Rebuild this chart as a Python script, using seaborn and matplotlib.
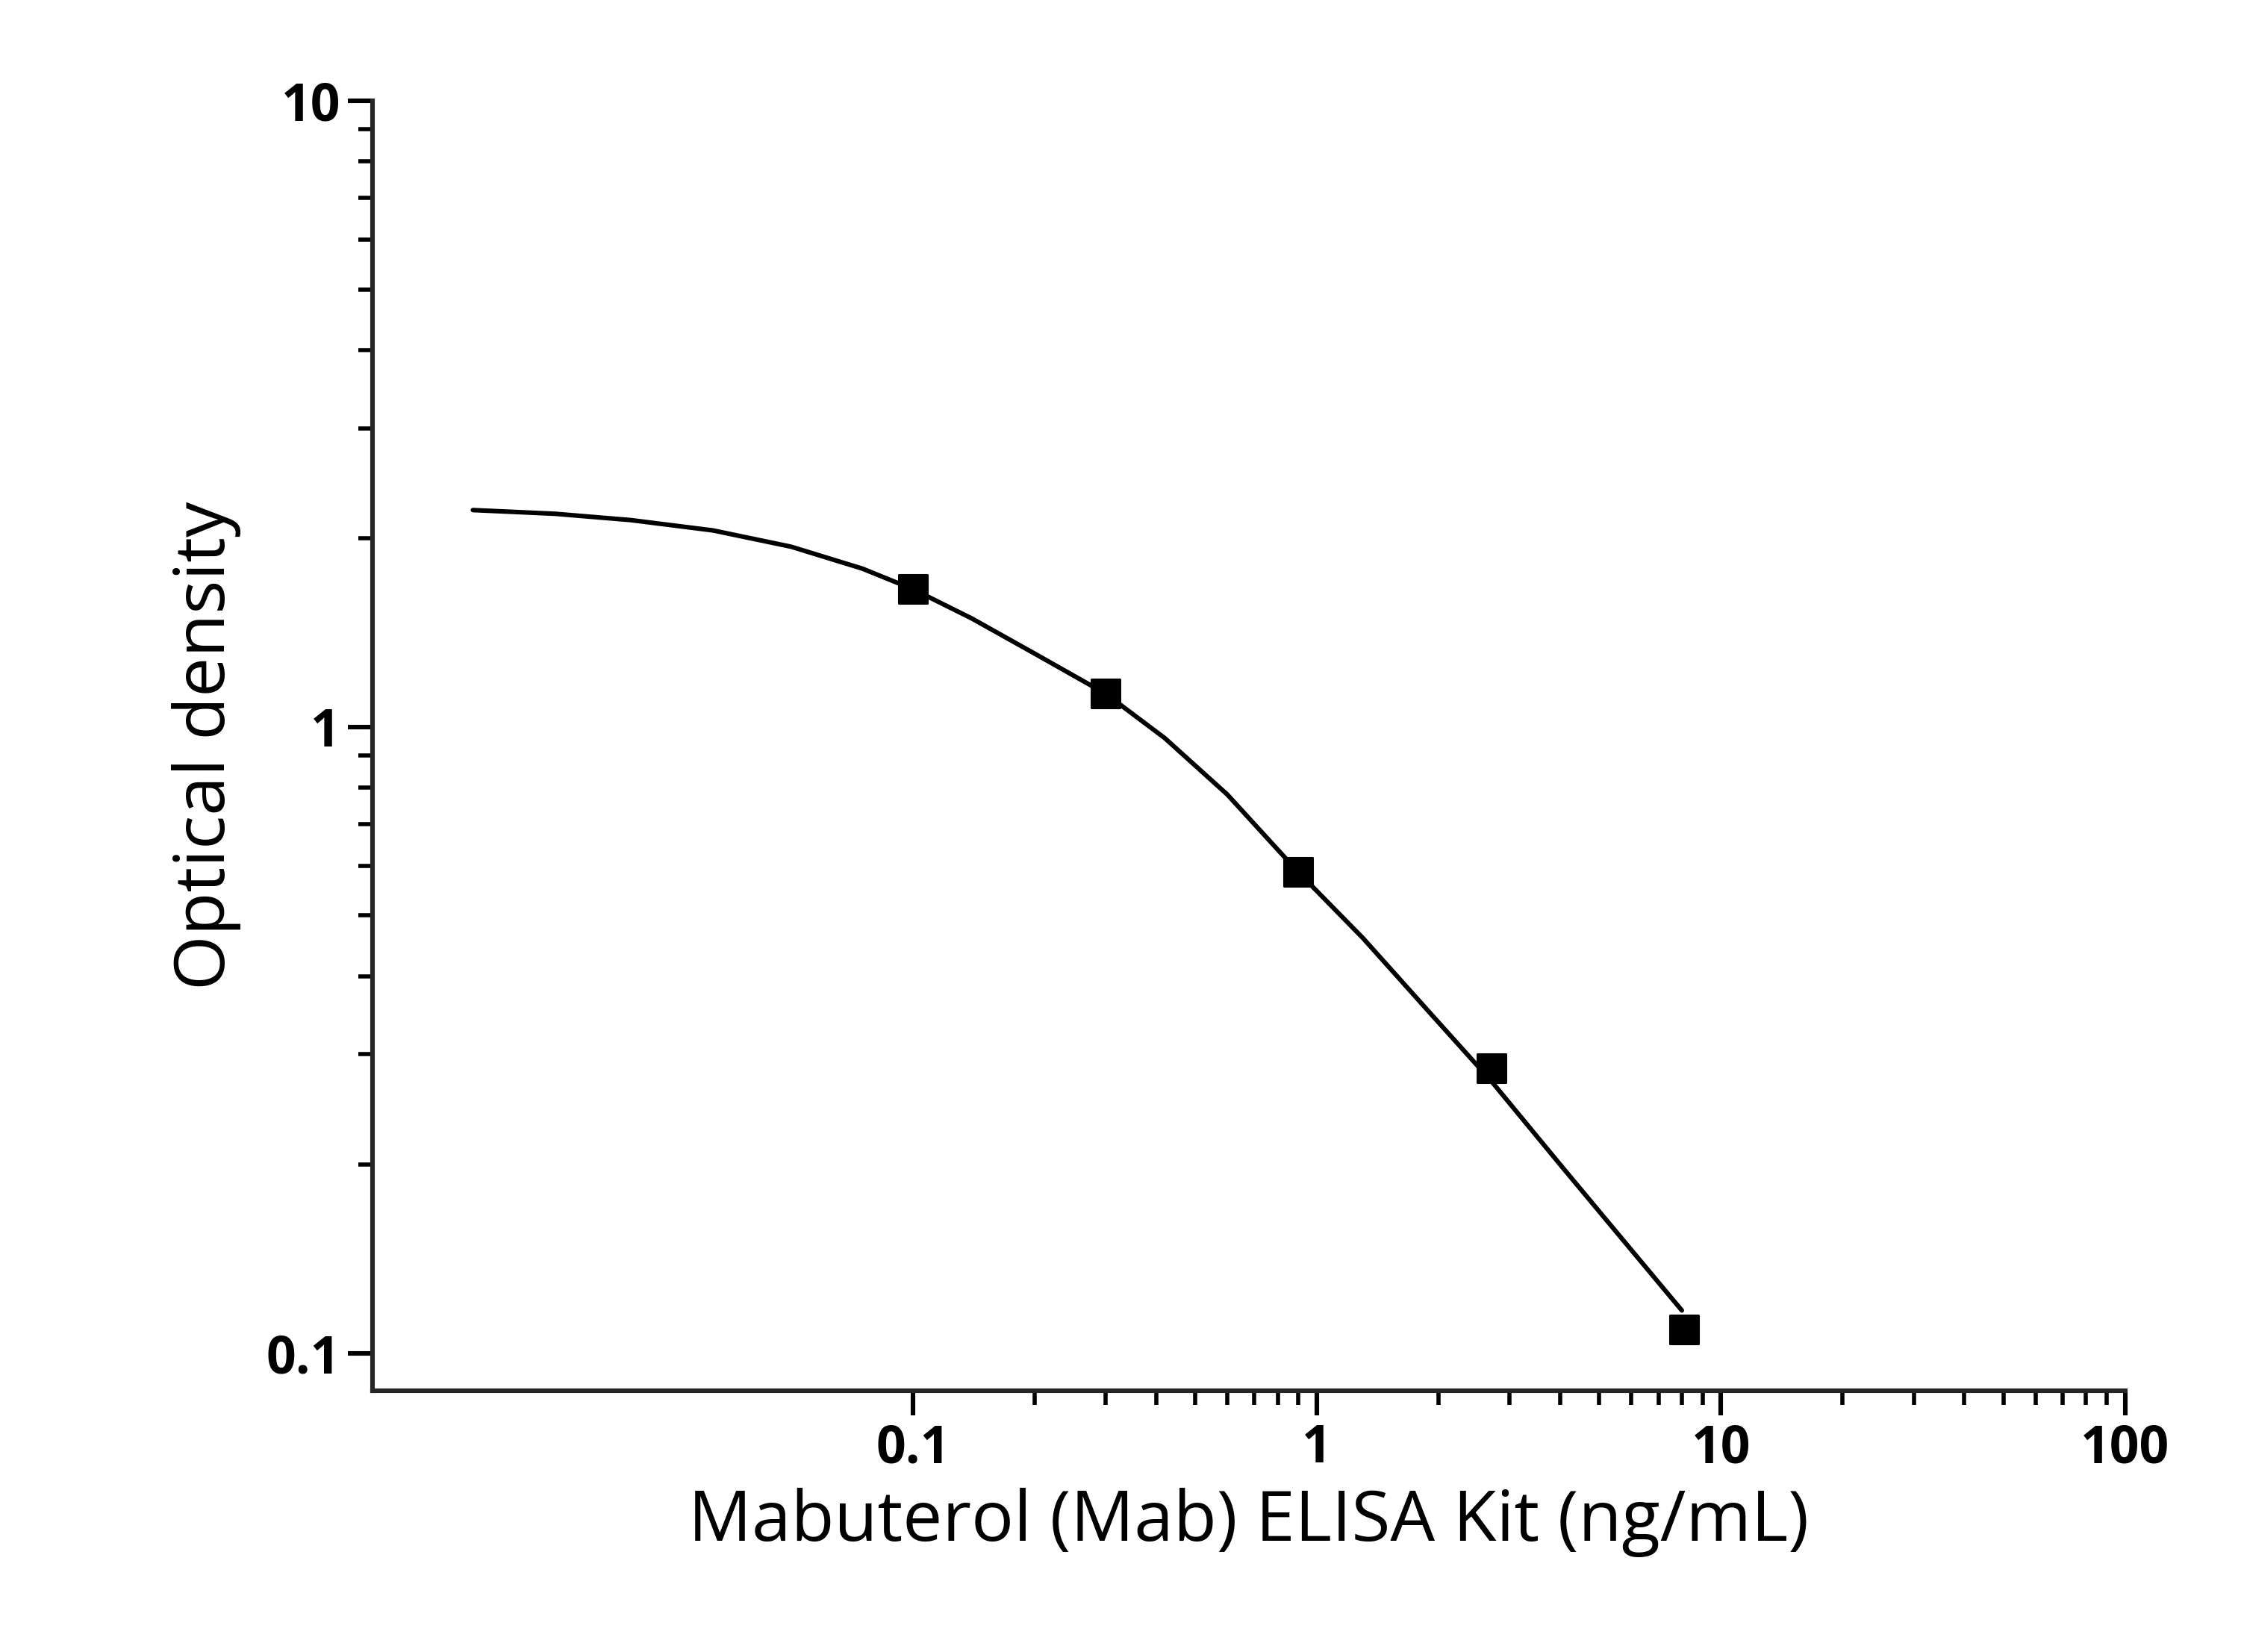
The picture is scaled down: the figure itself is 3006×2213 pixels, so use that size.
import numpy as np
import seaborn as sns
import matplotlib.pyplot as plt
from matplotlib.ticker import FixedLocator, FixedFormatter, NullFormatter

# standard points
conc = [0.1, 0.30, 0.90, 2.7, 8.1]
od = [1.66, 1.13, 0.586, 0.285, 0.109]

# fitted curve
curve_x = [0.00815, 0.013, 0.02, 0.032, 0.05, 0.075, 0.1, 0.14, 0.2, 0.30,
           0.42, 0.6, 0.90, 1.3, 1.9, 2.7, 4.0, 5.8, 8.0]
curve_y = [2.22, 2.19, 2.14, 2.06, 1.94, 1.79, 1.66, 1.49, 1.31, 1.13,
           0.96, 0.78, 0.586, 0.46, 0.35, 0.272, 0.200, 0.150, 0.117]

sns.set_style("ticks")
plt.rcParams['font.family'] = ['Open Sans', 'DejaVu Sans']
plt.rcParams['text.color'] = 'black'
plt.rcParams['axes.labelcolor'] = 'black'
plt.rcParams['xtick.color'] = 'black'
plt.rcParams['ytick.color'] = 'black'

fig = plt.figure(figsize=(15.03, 11.065), dpi=200)
ax = fig.add_axes([0.166, 0.158, 0.781, 0.781])

sns.lineplot(x=curve_x, y=curve_y, ax=ax, color='black', lw=2.2, sort=False)
sns.scatterplot(x=conc, y=od, ax=ax, marker='s', s=190, color='black', edgecolor='black', zorder=5)

ax.set_xscale('log')
ax.set_yscale('log')
ax.set_xlim(0.0046, 100)
ax.set_ylim(0.087, 10)

ax.xaxis.set_major_locator(FixedLocator([0.1, 1, 10, 100]))
ax.xaxis.set_major_formatter(FixedFormatter(['0.1', '1', '10', '100']))
ax.yaxis.set_major_locator(FixedLocator([0.1, 1, 10]))
ax.yaxis.set_major_formatter(FixedFormatter(['0.1', '1', '10']))
xminor = [m * d for d in (0.1, 1, 10) for m in range(2, 10)]
yminor = [m * d for d in (0.1, 1) for m in range(2, 10)]
ax.xaxis.set_minor_locator(FixedLocator(xminor))
ax.yaxis.set_minor_locator(FixedLocator(yminor))
ax.xaxis.set_minor_formatter(NullFormatter())
ax.yaxis.set_minor_formatter(NullFormatter())

ax.tick_params(which='major', length=12, width=2.2, direction='out', labelsize=25)
ax.tick_params(which='minor', length=7, width=2, direction='out')
for lbl in ax.get_xticklabels() + ax.get_yticklabels():
    lbl.set_fontweight('bold')

sns.despine(ax=ax)
for s in ('left', 'bottom'):
    ax.spines[s].set_linewidth(2.2)

ax.set_xlabel('Mabuterol (Mab) ELISA Kit (ng/mL)', fontsize=34, labelpad=6)
ax.set_ylabel('Optical density', fontsize=34, labelpad=12)

fig.savefig('out.png', dpi=200)
